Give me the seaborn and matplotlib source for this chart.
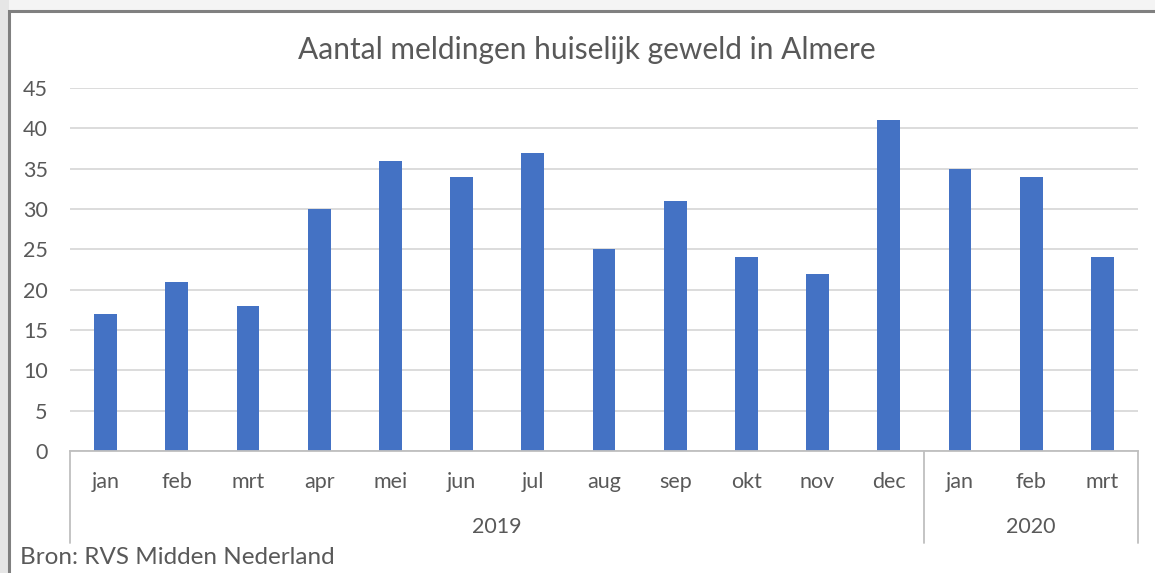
import matplotlib
matplotlib.use("Agg")
import matplotlib.pyplot as plt
import matplotlib.transforms as mtransforms
from matplotlib.patches import Rectangle
import pandas as pd
import seaborn as sns

# data
months = ["jan", "feb", "mrt", "apr", "mei", "jun", "jul", "aug", "sep", "okt", "nov", "dec",
          "jan", "feb", "mrt"]
years = ["2019"] * 12 + ["2020"] * 3
meldingen = [17, 21, 18, 30, 36, 34, 37, 25, 31, 24, 22, 41, 35, 34, 24]

df = pd.DataFrame({"maand": months, "jaar": years, "meldingen": meldingen})
df["key"] = df["jaar"] + "-" + df["maand"]

sns.set_theme(style="white")
plt.rcParams["font.family"] = ["Lato", "DejaVu Sans"]

W, H = 1155, 573
fig = plt.figure(figsize=(W / 100, H / 100), dpi=100)
fig.patch.set_facecolor("#f4f4f4")

# chart frame like the Excel screenshot (behind the axes)
fig.patches.append(Rectangle((0, 0), 9 / W, 1, transform=fig.transFigure,
                             facecolor="#e6e6e6", edgecolor="none", zorder=-2))
fig.patches.append(Rectangle((9 / W, -0.05), 1.1, 1 - 11 / H + 0.05, transform=fig.transFigure,
                             facecolor="white", edgecolor="#808080", linewidth=2.2, zorder=-1))

ax = fig.add_axes([70 / W, 1 - 451 / H, (1138 - 70) / W, (451 - 88) / H])
ax.set_facecolor("none")

sns.barplot(data=df, x="key", y="meldingen", color="#4472C4", saturation=1,
            width=0.32, linewidth=0, ax=ax)

ax.set_ylim(0, 45)
ax.set_xlim(-0.5, len(months) - 0.5)
ax.set_yticks(range(0, 46, 5))
ax.yaxis.grid(True, color="#d9d9d9", linewidth=1.3)
ax.set_axisbelow(True)
ax.set_xlabel("")
ax.set_ylabel("")
for side in ["left", "right", "top"]:
    ax.spines[side].set_visible(False)
ax.spines["bottom"].set_color("#bfbfbf")
ax.spines["bottom"].set_linewidth(1.3)

ax.set_xticks(range(len(months)))
ax.set_xticklabels(months)
ax.tick_params(axis="x", length=0, pad=15, labelsize=15.5, labelcolor="#595959")
ax.tick_params(axis="y", length=0, pad=16, labelsize=15.5, labelcolor="#595959")

# multi-level category axis: separators and year labels
trans = mtransforms.blended_transform_factory(ax.transData, ax.transAxes)
depth = (543 - 451) / (451 - 88)
for xs in [-0.5, 11.5, 14.5]:
    ax.plot([xs, xs], [0, -depth], transform=trans, color="#bfbfbf", linewidth=1.3,
            clip_on=False)
year_y = -(527 - 451) / (451 - 88)
ax.text(5.5, year_y, "2019", transform=trans, ha="center", va="center",
        fontsize=15.5, color="#595959")
ax.text(13, year_y, "2020", transform=trans, ha="center", va="center",
        fontsize=15.5, color="#595959")

fig.text(587 / W, 1 - 50 / H, "Aantal meldingen huiselijk geweld in Almere",
         ha="center", va="center", fontsize=21.5, color="#595959")
fig.text(20 / W, 1 - 558 / H, "Bron: RVS Midden Nederland", ha="left", va="center",
         fontsize=17.5, color="#595959")

fig.savefig("out.png", dpi=100, facecolor=fig.get_facecolor())
